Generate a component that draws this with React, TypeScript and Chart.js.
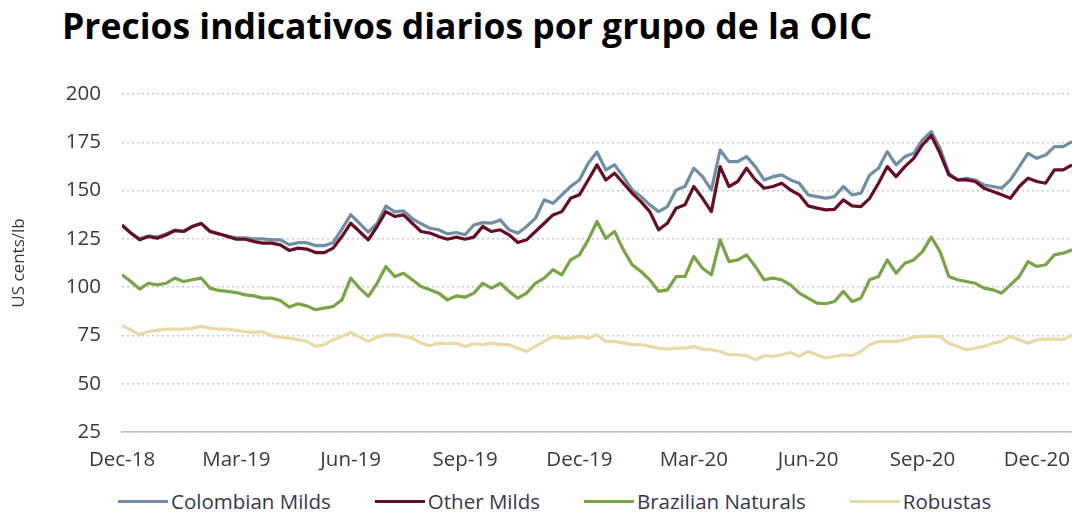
import { useEffect, useRef } from "react";
import Chart from "chart.js/auto";

const TITLE = "Precios indicativos diarios por grupo de la OIC";
const Y_TITLE = "US cents/lb";
const TICK_LABELS = ["Dec-18", "Mar-19", "Jun-19", "Sep-19", "Dec-19", "Mar-20", "Jun-20", "Sep-20", "Dec-20"];
const WEEKS_PER_TICK = 13;
const SERIES_NAMES = ["Colombian Milds", "Other Milds", "Brazilian Naturals", "Robustas"];
const SERIES_COLORS = ["#6F8DA5", "#650D22", "#77A545", "#E8D9A6"];

// weekly readings, US cents/lb
const COLOMBIAN = [
  132, 128, 125, 126.5, 126, 127.5, 129.5, 129, 131.5, 133, 129, 127.5, 126.5, 125.5, 125.5, 125, 125, 124.5, 124.5, 122,
  123, 123, 121.5, 121.5, 123, 130, 137.5, 133, 128.5, 133, 142, 139, 139.5, 135.5,
  132.8, 130.5, 129.7, 127.6, 128.3, 127.1, 132.2, 133.4, 133.1, 134.8, 129.7, 127.9, 131.4, 135.7, 145.2, 143.4,
  147.8, 152.1, 155.5, 164.1, 170, 160.7, 163.3, 157.2, 150.3, 146.9, 142.6, 139.1, 141.7, 150.3, 152.1, 161.6,
  157.2, 150.3, 171, 165, 165,
  167.6, 162.4, 155.5, 157.2, 158.1, 155.5, 153.8, 147.8, 146.9, 146, 146.9, 152.1, 147.8, 148.6, 158.1, 161.6,
  170.2, 163.3, 167.6, 169.3, 176.2, 180.5, 171.9, 159, 155.5, 156.4, 155.5, 152.9, 152.1, 151.2, 155.5, 162.4,
  169.3, 166.7, 168.4, 172.8, 172.8, 175.3,
];
const OTHER_MILDS = [
  132.2, 128, 124.5, 126.2, 125.3, 127, 129.3, 128.8, 131.4, 133, 128.8, 127.6, 126.2, 124.8, 124.8, 123.6, 122.8,
  122.8, 121.9, 119, 120.2, 119.7, 117.9, 117.9, 120.2, 126.2, 133.1, 128.8, 124.5, 131.4, 139.1, 136.6, 137.4, 133.1,
  128.8, 128, 126.2, 124.8, 125.9, 124.8, 125.9, 131.4, 128.8, 129.7, 127.1, 123.1, 124.5, 128.8, 133.1, 137.4,
  139.1, 146, 147.8, 155.5, 163.3, 155.5, 159, 153.8, 148.6, 144.3, 139.1, 129.7, 133.1, 140.9, 142.6, 152.1,
  146, 139.1, 162.4, 152.1, 154.7,
  161.6, 155.5, 151.2, 152.1, 153.8, 150.3, 147.8, 142.1, 140.9, 140, 140.3, 145.2, 142.1, 141.7, 146, 153.8,
  162.4, 157.2, 162.4, 166.7, 173.6, 178.5, 169.3, 158.1, 155.5, 155.5, 154.7, 151.2, 149.5, 147.8, 146, 152.1,
  156.4, 154.7, 153.8, 160.7, 160.7, 163.3,
];
const BRAZILIAN = [
  106.4, 102.9, 99, 102, 101.2, 102, 104.7, 102.9, 103.8, 104.7, 99.5, 98.3, 97.8, 97.2, 96, 95.5, 94.3, 94.3, 93.1,
  89.7, 91.4, 90.3, 88.3, 89.1, 90, 93.4, 104.7, 99.5, 95.2, 102, 110.7, 105.5, 107.2, 103.8,
  100.3, 98.6, 96.9, 93.4, 95.5, 94.8, 96.9, 102, 99.5, 102, 97.8, 94.3, 96.9, 102, 104.7, 109,
  106.4, 114.1, 116.7, 124.5, 134, 125.3, 128.8, 119.3, 111.6, 108.1, 103.8, 97.8, 98.6, 105.5, 105.5, 115.9,
  109.8, 106.4, 124.5, 113.2, 114.1,
  116.7, 110.7, 103.8, 104.7, 103.8, 101.2, 96.9, 94.3, 91.7, 91.4, 92.6, 97.8, 92.6, 94.3, 103.8, 105.5,
  114.1, 107.2, 112.4, 114.1, 118.4, 125.9, 118.4, 105.5, 103.8, 102.9, 102, 99.5, 98.6, 96.9, 101.2, 105.5,
  113.2, 110.7, 111.6, 116.7, 117.6, 119.3,
];
const ROBUSTAS = [
  80, 77.9, 75.3, 77, 77.6, 78.3, 78.3, 78.3, 78.8, 79.7, 78.8, 78.3, 78.3, 77.6, 77, 76.6, 77, 74.8, 74.1, 73.6,
  72.8, 71.9, 69.3, 70.2, 72.8, 74.5, 76.6, 74.1, 71.9, 74.1, 75.3, 75.3, 74.5, 73.6,
  71, 69.7, 71, 70.7, 71, 69.3, 70.7, 70.2, 71, 70.2, 70.2, 68.4, 66.7, 69.3, 71.9, 74.5,
  73.6, 73.6, 74.5, 73.6, 75.3, 71.9, 71.9, 71, 70.2, 70.2, 69.3, 68.4, 67.9, 68.4, 68.4, 69.3,
  67.9, 67.6, 66.7, 65, 65,
  64.5, 62.4, 64.5, 64.1, 65, 66.2, 64.1, 66.7, 65, 63.3, 64.1, 65, 64.5, 66.7, 70.2, 71.9,
  71.9, 71.9, 72.8, 74.1, 74.5, 74.5, 74.5, 71, 69.3, 67.6, 68.4, 69.3, 71, 71.9, 74.5, 72.8,
  71, 72.8, 73.1, 73.1, 72.8, 75.3,
];
const SERIES_VALUES = [COLOMBIAN, OTHER_MILDS, BRAZILIAN, ROBUSTAS];
const DRAW_ORDER = [1, 0, 2, 3];

const FONT = '"Open Sans", sans-serif';
const TEXT_COLOR = "#35384A";

export default function App() {
  const ref = useRef<HTMLCanvasElement>(null);

  useEffect(() => {
    const canvas = ref.current;
    if (!canvas) return;
    const lastIndex = COLOMBIAN.length - 1;
    const chart = new Chart(canvas, {
      type: "line",
      data: {
        datasets: SERIES_VALUES.map((vals, k) => ({
          label: SERIES_NAMES[k],
          data: vals.map((v, i) => ({ x: i, y: v })),
          borderColor: SERIES_COLORS[k],
          backgroundColor: SERIES_COLORS[k],
          borderWidth: 3.2,
          pointRadius: 0,
          tension: 0,
          borderJoinStyle: "round" as const,
          order: DRAW_ORDER[k],
        })),
      },
      options: {
        animation: false,
        responsive: false,
        devicePixelRatio: 1,
        layout: { padding: { top: 34, right: 0, bottom: 0, left: 0 } },
        plugins: { legend: { display: false }, tooltip: { enabled: false }, title: { display: false } },
        scales: {
          x: {
            type: "linear",
            min: 0,
            max: lastIndex,
            afterBuildTicks: (s: any) => {
              s.ticks = TICK_LABELS.map((_, k) => ({ value: k * WEEKS_PER_TICK }));
            },
            afterFit: (s: any) => {
              s.height = 48;
              s.paddingLeft = 0;
              s.paddingRight = 0;
            },
            ticks: {
              callback: (v: any) => {
                const n = Number(v);
                if (n % WEEKS_PER_TICK !== 0) return "";
                return TICK_LABELS[n / WEEKS_PER_TICK] ?? "";
              },
              maxRotation: 0,
              minRotation: 0,
              autoSkip: false,
              padding: 16,
              color: TEXT_COLOR,
              font: { family: FONT, size: 20.5 },
            },
            grid: { display: false, drawTicks: false },
            border: { display: true, color: "#BFBFBF", width: 1.5 },
          },
          y: {
            min: 25,
            max: 200,
            afterFit: (s: any) => {
              s.width = 122;
            },
            ticks: {
              stepSize: 25,
              padding: 21,
              color: TEXT_COLOR,
              font: { family: FONT, size: 20.5 },
            },
            grid: { color: "#C9C9C9", lineWidth: 1.5, drawTicks: false },
            border: { display: false, dash: [2, 3] },
            title: {
              display: true,
              text: Y_TITLE,
              color: TEXT_COLOR,
              font: { family: FONT, size: 17 },
              padding: { top: 9, bottom: 0 },
            },
          },
        },
      },
    });
    return () => chart.destroy();
  }, []);

  return (
    <div
      style={{
        position: "fixed",
        left: 0,
        top: 0,
        width: 1072,
        height: 512,
        background: "#fff",
        fontFamily: FONT,
        overflow: "hidden",
      }}
    >
      <div
        style={{
          position: "absolute",
          left: 62,
          top: 8,
          fontSize: 35.5,
          fontWeight: 700,
          lineHeight: 1,
          color: "#000",
          whiteSpace: "nowrap",
        }}
      >
        {TITLE}
      </div>
      <div style={{ position: "absolute", left: 0, top: 60, width: 1072, height: 420 }}>
        <canvas ref={ref} width={1072} height={420} style={{ display: "block" }} />
      </div>
      <div
        style={{
          position: "absolute",
          left: 118,
          top: 488,
          display: "flex",
          alignItems: "center",
          gap: 44,
          fontSize: 20.5,
          lineHeight: "26px",
          color: TEXT_COLOR,
          whiteSpace: "nowrap",
        }}
      >
        {SERIES_NAMES.map((name, k) => (
          <div key={name} style={{ display: "flex", alignItems: "center" }}>
            <span style={{ display: "inline-block", width: 50, height: 3, background: SERIES_COLORS[k], marginRight: 3 }} />
            <span>{name}</span>
          </div>
        ))}
      </div>
    </div>
  );
}
